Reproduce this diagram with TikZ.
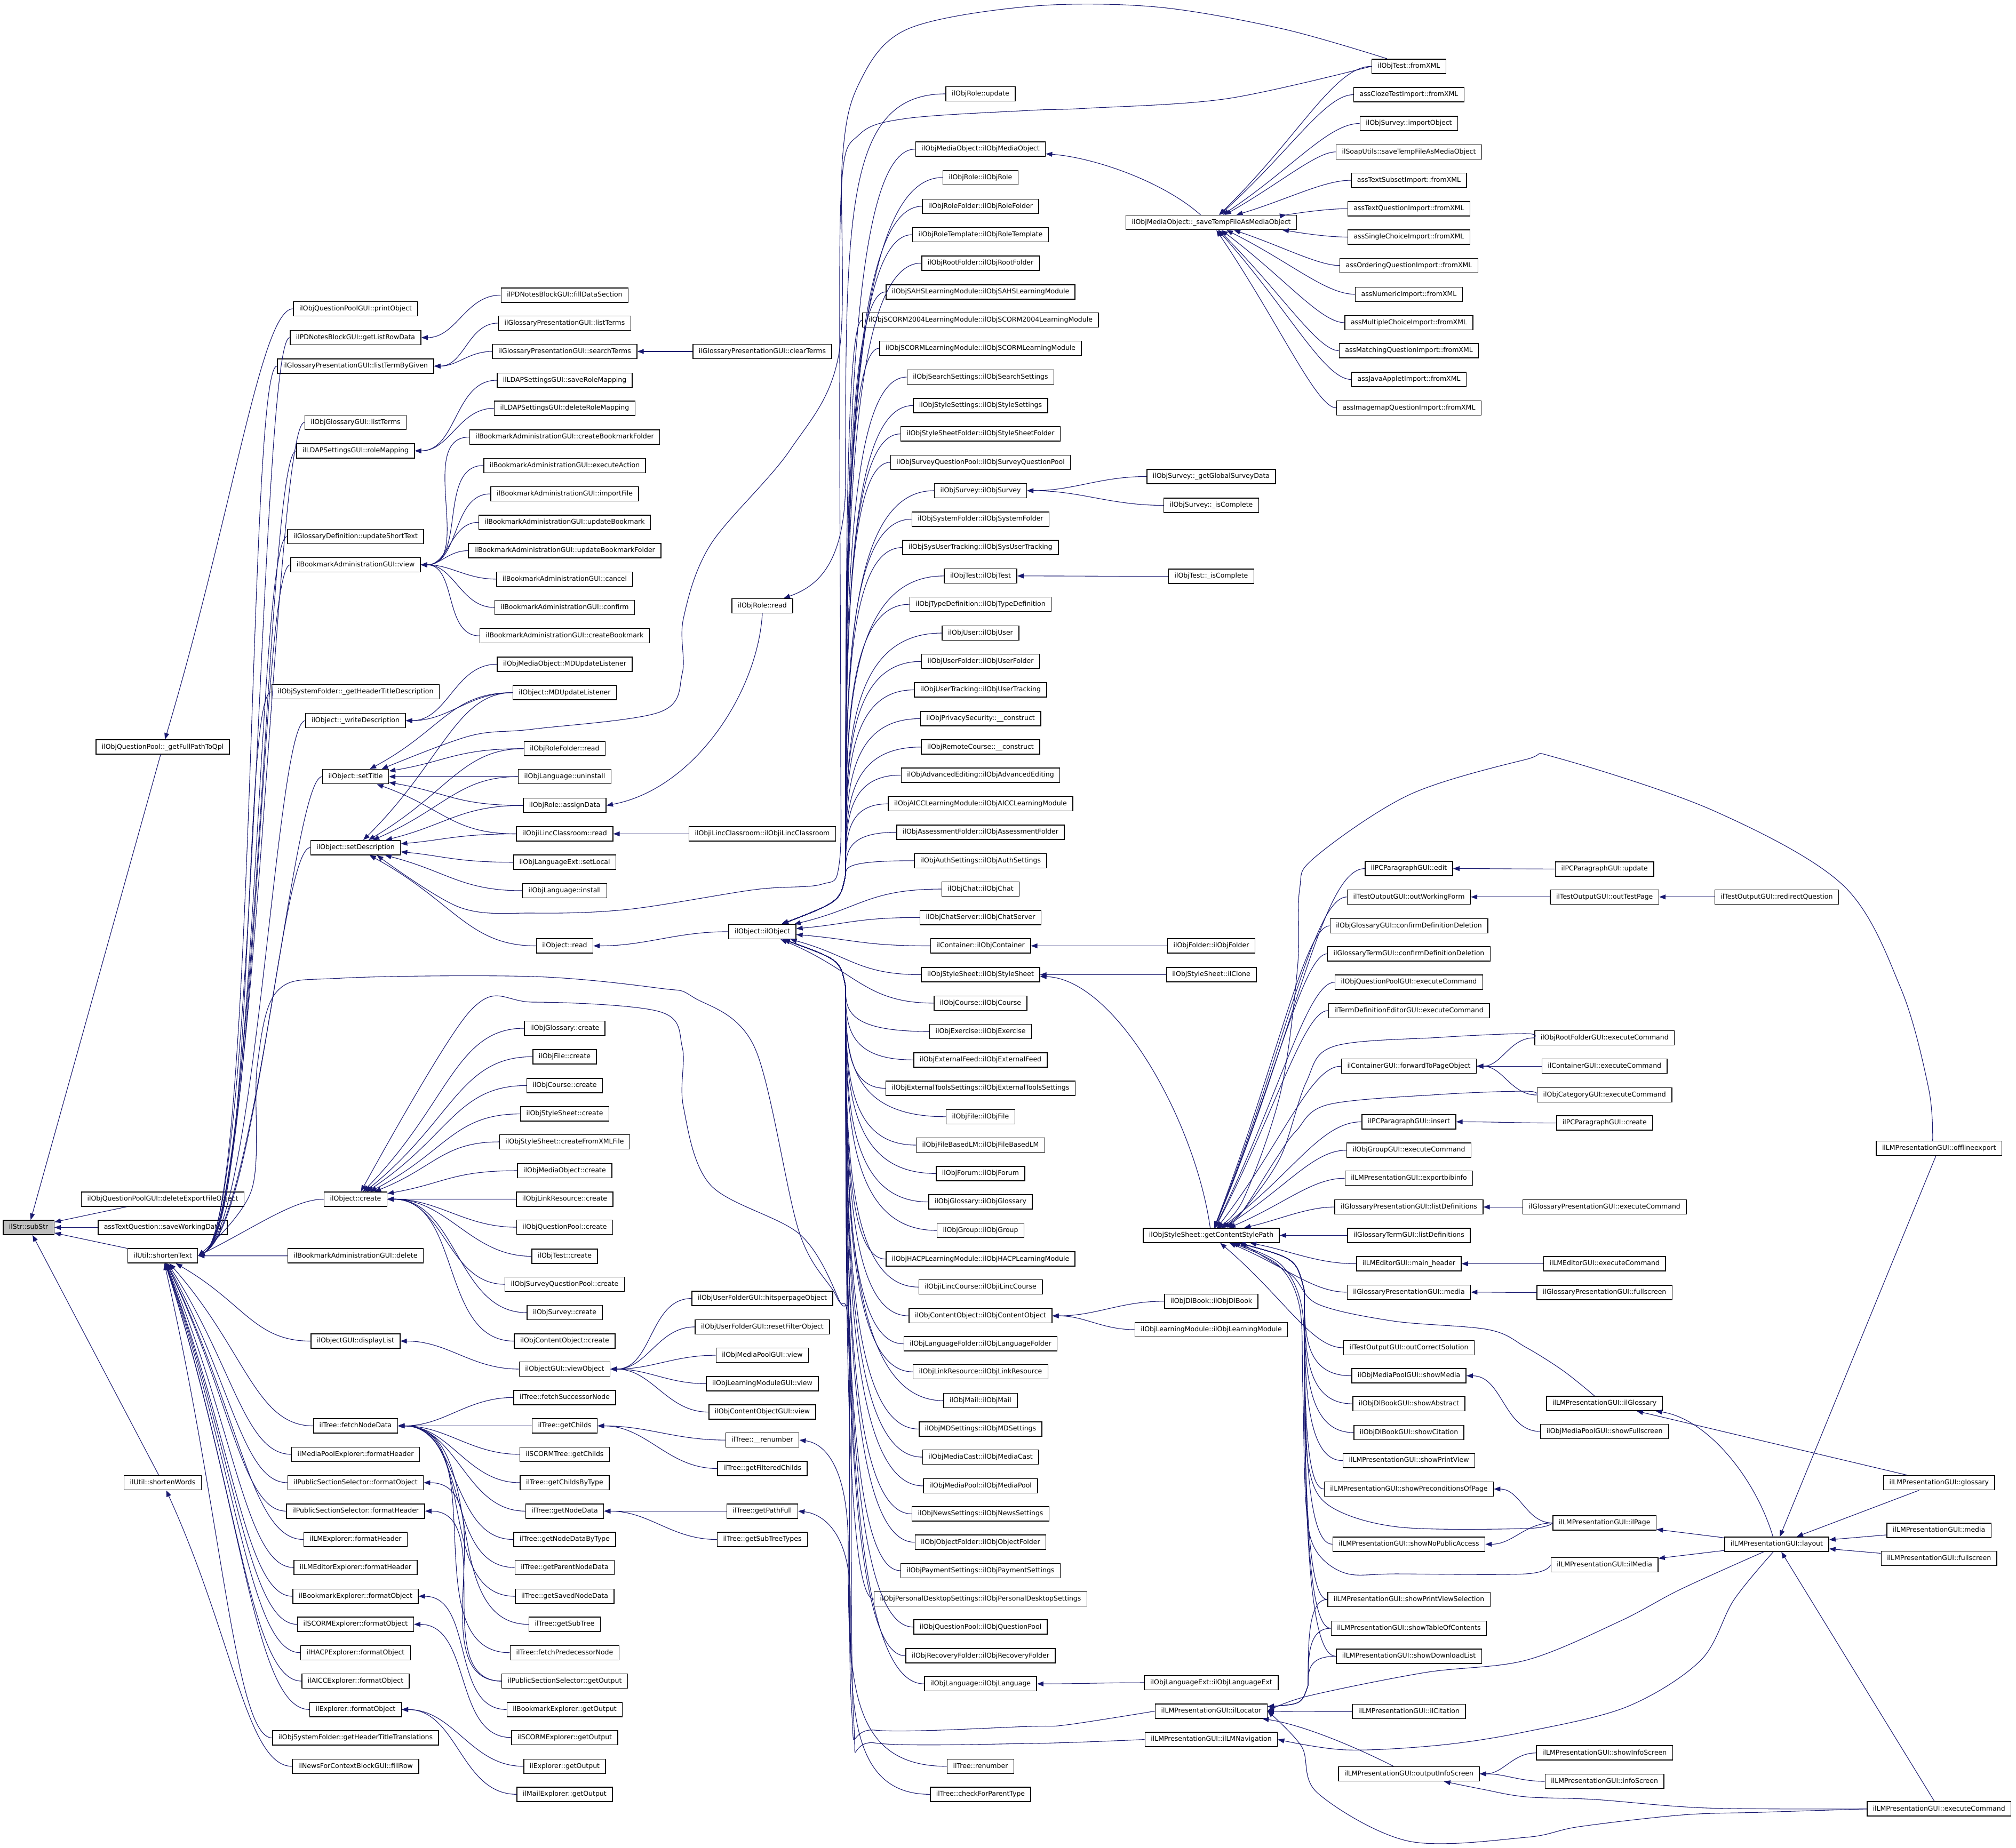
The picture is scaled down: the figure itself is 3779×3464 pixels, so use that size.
\documentclass[tikz,border=0pt]{standalone}
\usepackage{fontspec}
\newfontfamily\djv{DejaVu Sans}
\usetikzlibrary{arrows.meta,calc}
\definecolor{edgec}{RGB}{25,25,112}
\definecolor{subfill}{RGB}{191,191,191}
\tikzset{
  fn/.style={draw=black, line width=1.5pt, font=\djv\fontsize{12.5pt}{15pt}\selectfont, inner xsep=11pt, inner ysep=0pt, minimum height=27pt, text height=9.5pt, text depth=2.8pt},
  ed/.style={draw=edgec, line width=1.1pt, -{Triangle[length=12pt,width=9pt]}},
}
\newcommand\edg[2]{\draw[ed] (#1.west) .. controls ($(#1.west)!0.5!(#2.east |- #1.west)$) and ($(#2.center)!0.55!(#1.west)$) .. (#2);}
\newcommand\edgH[2]{\draw[ed] (#1.west) to[out=180,in=0] (#2.east);}
\newcommand\edgA[1]{\draw[ed] (#1.west) .. controls ($(#1.west)+(-55,0)$) and (480,2300) .. (st.east);}
\newcommand\edgOu[1]{\draw[ed] (#1.west) .. controls (#1.west -| vx) and ($(#1.west -| vx)!0.5!(1585,1640)$) .. (1585,1640) .. controls (1575,1690) .. (octor);}
\newcommand\edgOd[1]{\draw[ed] (#1.west) .. controls (#1.west -| vx) and ($(#1.west -| vx)!0.5!(1585,1850)$) .. (1585,1850) .. controls (1575,1800) .. (octor);}
\newcommand\edgGd[1]{\draw[ed] (#1.west) .. controls (#1.west -| gx) and ($(#1.west -| gx)!0.5!(2445,2420)$) .. (2445,2420) .. controls (2430,2360) .. (gcsp);}
\newcommand\edgLu[1]{\draw[ed] (#1.west) .. controls (#1.west -| lx) and ($(#1.west -| lx)!0.5!(2452,3160)$) .. (2452,3160) .. controls (2440,3195) .. (loc);}
\begin{document}
\begin{tikzpicture}[x=1pt,y=-1pt]
\useasboundingbox (0,0) rectangle (3779,3464);
\coordinate (vx) at (1585,0);
\coordinate (gx) at (2445,0);
\coordinate (lx) at (2452,0);
% rank 0
\node[fn,fill=subfill] (sub) at (53.6,2301.5) {ilStr::subStr};
% rank 1
\node[fn] (fpq) at (305,1400.7) {ilObjQuestionPool::\_getFullPathToQpl};
\node[fn] (defo) at (305,2248.4) {ilObjQuestionPoolGUI::deleteExportFileObject};
\node[fn] (swd) at (305,2301.5) {assTextQuestion::saveWorkingData};
\node[fn] (st) at (305,2354.7) {ilUtil::shortenText};
\node[fn] (sw) at (305,2780) {ilUtil::shortenWords};
% rank 2
\node[fn] (po) at (666.5,579) {ilObjQuestionPoolGUI::printObject};
\node[fn] (glrd) at (666.5,633) {ilPDNotesBlockGUI::getListRowData};
\node[fn] (ltbg) at (666.5,686.4) {ilGlossaryPresentationGUI::listTermByGiven};
\node[fn] (oglt) at (666.5,792) {ilObjGlossaryGUI::listTerms};
\node[fn] (rm) at (666.5,845.4) {ilLDAPSettingsGUI::roleMapping};
\node[fn] (ust) at (666.5,1006) {ilGlossaryDefinition::updateShortText};
\node[fn] (bview) at (666.5,1059) {ilBookmarkAdministrationGUI::view};
\node[fn] (ghtd) at (666.5,1297.2) {ilObjSystemFolder::\_getHeaderTitleDescription};
\node[fn] (wd) at (666.5,1351.2) {ilObject::\_writeDescription};
\node[fn] (sett) at (666.5,1456.2) {ilObject::setTitle};
\node[fn] (setd) at (666.5,1589.3) {ilObject::setDescription};
\node[fn] (ocr) at (666.5,2248.4) {ilObject::create};
\node[fn] (bdel) at (666.5,2354.7) {ilBookmarkAdministrationGUI::delete};
\node[fn] (dl) at (666.5,2514.5) {ilObjectGUI::displayList};
\node[fn] (fnd) at (666.5,2673.5) {ilTree::fetchNodeData};
\node[fn] (mpfh) at (666.5,2726.8) {ilMediaPoolExplorer::formatHeader};
\node[fn] (pssfo) at (666.5,2780) {ilPublicSectionSelector::formatObject};
\node[fn] (pssfh) at (666.5,2833.3) {ilPublicSectionSelector::formatHeader};
\node[fn] (lmfh) at (666.5,2886.5) {ilLMExplorer::formatHeader};
\node[fn] (lmefh) at (666.5,2939) {ilLMEditorExplorer::formatHeader};
\node[fn] (bfo) at (666.5,2993) {ilBookmarkExplorer::formatObject};
\node[fn] (scfo) at (666.5,3045.6) {ilSCORMExplorer::formatObject};
\node[fn] (hfo) at (666.5,3098.8) {ilHACPExplorer::formatObject};
\node[fn] (afo) at (666.5,3152) {ilAICCExplorer::formatObject};
\node[fn] (efo) at (666.5,3205.3) {ilExplorer::formatObject};
\node[fn] (ghtt) at (666.5,3258.6) {ilObjSystemFolder::getHeaderTitleTranslations};
\node[fn] (frow) at (666.5,3311.8) {ilNewsForContextBlockGUI::fillRow};
% rank 3
\node[fn] (fds) at (1058.5,553.3) {ilPDNotesBlockGUI::fillDataSection};
\node[fn] (gplt) at (1058.5,605.8) {ilGlossaryPresentationGUI::listTerms};
\node[fn] (gpst) at (1058.5,659) {ilGlossaryPresentationGUI::searchTerms};
\node[fn] (srm) at (1058.5,713) {ilLDAPSettingsGUI::saveRoleMapping};
\node[fn] (drm) at (1058.5,765.5) {ilLDAPSettingsGUI::deleteRoleMapping};
\node[fn] (cbf) at (1058.5,819.5) {ilBookmarkAdministrationGUI::createBookmarkFolder};
\node[fn] (exa) at (1058.5,872.8) {ilBookmarkAdministrationGUI::executeAction};
\node[fn] (imf) at (1058.5,926) {ilBookmarkAdministrationGUI::importFile};
\node[fn] (ubm) at (1058.5,979.3) {ilBookmarkAdministrationGUI::updateBookmark};
\node[fn] (ubf) at (1058.5,1032.5) {ilBookmarkAdministrationGUI::updateBookmarkFolder};
\node[fn] (bcan) at (1058.5,1085.8) {ilBookmarkAdministrationGUI::cancel};
\node[fn] (bconf) at (1058.5,1139) {ilBookmarkAdministrationGUI::confirm};
\node[fn] (cbm) at (1058.5,1192.2) {ilBookmarkAdministrationGUI::createBookmark};
\node[fn] (momd) at (1058.5,1245.4) {ilObjMediaObject::MDUpdateListener};
\node[fn] (omd) at (1058.5,1298.7) {ilObject::MDUpdateListener};
\node[fn] (rfr) at (1058.5,1403.7) {ilObjRoleFolder::read};
\node[fn] (lun) at (1058.5,1456.2) {ilObjLanguage::uninstall};
\node[fn] (rad) at (1058.5,1510.2) {ilObjRole::assignData};
\node[fn] (ilr) at (1058.5,1563.5) {ilObjiLincClassroom::read};
\node[fn] (sloc) at (1058.5,1616.7) {ilObjLanguageExt::setLocal};
\node[fn] (linst) at (1058.5,1670) {ilObjLanguage::install};
\node[fn] (ord) at (1058.5,1773.5) {ilObject::read};
\node[fn] (gcr) at (1058.5,1928) {ilObjGlossary::create};
\node[fn] (fcr) at (1058.5,1981.3) {ilObjFile::create};
\node[fn] (ccr) at (1058.5,2035.4) {ilObjCourse::create};
\node[fn] (sscr) at (1058.5,2088.6) {ilObjStyleSheet::create};
\node[fn] (ssxml) at (1058.5,2141) {ilObjStyleSheet::createFromXMLFile};
\node[fn] (mocr) at (1058.5,2195) {ilObjMediaObject::create};
\node[fn] (lrcr) at (1058.5,2248.4) {ilObjLinkResource::create};
\node[fn] (qpcr) at (1058.5,2301) {ilObjQuestionPool::create};
\node[fn] (tcr) at (1058.5,2355.5) {ilObjTest::create};
\node[fn] (sqpcr) at (1058.5,2408) {ilObjSurveyQuestionPool::create};
\node[fn] (svcr) at (1058.5,2461.2) {ilObjSurvey::create};
\node[fn] (cocr) at (1058.5,2514.5) {ilObjContentObject::create};
\node[fn] (vo) at (1058.5,2567) {ilObjectGUI::viewObject};
\node[fn] (fsn) at (1058.5,2620.3) {ilTree::fetchSuccessorNode};
\node[fn] (gch) at (1058.5,2673.5) {ilTree::getChilds};
\node[fn] (scgch) at (1058.5,2726.8) {ilSCORMTree::getChilds};
\node[fn] (gcbt) at (1058.5,2780) {ilTree::getChildsByType};
\node[fn] (gnd) at (1058.5,2833.3) {ilTree::getNodeData};
\node[fn] (gndbt) at (1058.5,2886.5) {ilTree::getNodeDataByType};
\node[fn] (gpnd) at (1058.5,2939) {ilTree::getParentNodeData};
\node[fn] (gsnd) at (1058.5,2993) {ilTree::getSavedNodeData};
\node[fn] (gst) at (1058.5,3045.6) {ilTree::getSubTree};
\node[fn] (fpn) at (1058.5,3098.8) {ilTree::fetchPredecessorNode};
\node[fn] (pssgo) at (1058.5,3152) {ilPublicSectionSelector::getOutput};
\node[fn] (bgo) at (1058.5,3205.3) {ilBookmarkExplorer::getOutput};
\node[fn] (scgo) at (1058.5,3257.8) {ilSCORMExplorer::getOutput};
\node[fn] (ego) at (1058.5,3311.8) {ilExplorer::getOutput};
\node[fn] (mgo) at (1058.5,3364.3) {ilMailExplorer::getOutput};
% rank 4
\node[fn] (clr) at (1429,659) {ilGlossaryPresentationGUI::clearTerms};
\node[fn] (rread) at (1429,1136) {ilObjRole::read};
\node[fn] (ilc) at (1429,1563.5) {ilObjiLincClassroom::ilObjiLincClassroom};
\node[fn] (octor) at (1429,1746.9) {ilObject::ilObject};
\node[fn] (hpp) at (1429,2434.6) {ilObjUserFolderGUI::hitsperpageObject};
\node[fn] (rfo) at (1429,2487.9) {ilObjUserFolderGUI::resetFilterObject};
\node[fn] (mpv) at (1429,2541.1) {ilObjMediaPoolGUI::view};
\node[fn] (lmv) at (1429,2594.4) {ilObjLearningModuleGUI::view};
\node[fn] (cov) at (1429,2647.6) {ilObjContentObjectGUI::view};
\node[fn] (ren) at (1429,2700.1) {ilTree::\_\_renumber};
\node[fn] (gfc) at (1429,2753.4) {ilTree::getFilteredChilds};
\node[fn] (gpf) at (1429,2833.3) {ilTree::getPathFull};
\node[fn] (gstt) at (1429,2886.5) {ilTree::getSubTreeTypes};
% rank 5
\node[fn] (rupd) at (1838,176) {ilObjRole::update};
\node[fn] (c2) at (1838,279.6) {ilObjMediaObject::ilObjMediaObject};
\node[fn] (c3) at (1838,332.8) {ilObjRole::ilObjRole};
\node[fn] (c4) at (1838,386.8) {ilObjRoleFolder::ilObjRoleFolder};
\node[fn] (c5) at (1838,440) {ilObjRoleTemplate::ilObjRoleTemplate};
\node[fn] (c6) at (1838,493.3) {ilObjRootFolder::ilObjRootFolder};
\node[fn] (c7) at (1838,547.3) {ilObjSAHSLearningModule::ilObjSAHSLearningModule};
\node[fn] (c8) at (1838,599.8) {ilObjSCORM2004LearningModule::ilObjSCORM2004LearningModule};
\node[fn] (c9) at (1838,653) {ilObjSCORMLearningModule::ilObjSCORMLearningModule};
\node[fn] (c10) at (1838,707) {ilObjSearchSettings::ilObjSearchSettings};
\node[fn] (c11) at (1838,760.4) {ilObjStyleSettings::ilObjStyleSettings};
\node[fn] (c12) at (1838,813.6) {ilObjStyleSheetFolder::ilObjStyleSheetFolder};
\node[fn] (c13) at (1838,866.9) {ilObjSurveyQuestionPool::ilObjSurveyQuestionPool};
\node[fn] (c14) at (1838,920) {ilObjSurvey::ilObjSurvey};
\node[fn] (c15) at (1838,973.4) {ilObjSystemFolder::ilObjSystemFolder};
\node[fn] (c16) at (1838,1026.6) {ilObjSysUserTracking::ilObjSysUserTracking};
\node[fn] (c17) at (1838,1079.9) {ilObjTest::ilObjTest};
\node[fn] (c18) at (1838,1133.1) {ilObjTypeDefinition::ilObjTypeDefinition};
\node[fn] (c19) at (1838,1187) {ilObjUser::ilObjUser};
\node[fn] (c20) at (1838,1240.2) {ilObjUserFolder::ilObjUserFolder};
\node[fn] (c21) at (1838,1293.5) {ilObjUserTracking::ilObjUserTracking};
\node[fn] (c22) at (1838,1347.5) {ilObjPrivacySecurity::\_\_construct};
\node[fn] (c23) at (1838,1400.7) {ilObjRemoteCourse::\_\_construct};
\node[fn] (c24) at (1838,1453.3) {ilObjAdvancedEditing::ilObjAdvancedEditing};
\node[fn] (c25) at (1838,1507.2) {ilObjAICCLearningModule::ilObjAICCLearningModule};
\node[fn] (c26) at (1838,1560.5) {ilObjAssessmentFolder::ilObjAssessmentFolder};
\node[fn] (c27) at (1838,1613.8) {ilObjAuthSettings::ilObjAuthSettings};
\node[fn] (c28) at (1838,1667) {ilObjChat::ilObjChat};
\node[fn] (c29) at (1838,1720.3) {ilObjChatServer::ilObjChatServer};
\node[fn] (c30) at (1838,1773.5) {ilContainer::ilObjContainer};
\node[fn] (c31) at (1838,1827.5) {ilObjStyleSheet::ilObjStyleSheet};
\node[fn] (c32) at (1838,1880.8) {ilObjCourse::ilObjCourse};
\node[fn] (c33) at (1838,1934) {ilObjExercise::ilObjExercise};
\node[fn] (c34) at (1838,1987.3) {ilObjExternalFeed::ilObjExternalFeed};
\node[fn] (c35) at (1838,2040.5) {ilObjExternalToolsSettings::ilObjExternalToolsSettings};
\node[fn] (c36) at (1838,2093.8) {ilObjFile::ilObjFile};
\node[fn] (c37) at (1838,2147) {ilObjFileBasedLM::ilObjFileBasedLM};
\node[fn] (c38) at (1838,2200.3) {ilObjForum::ilObjForum};
\node[fn] (c39) at (1838,2253.6) {ilObjGlossary::ilObjGlossary};
\node[fn] (c40) at (1838,2307) {ilObjGroup::ilObjGroup};
\node[fn] (c41) at (1838,2360.7) {ilObjHACPLearningModule::ilObjHACPLearningModule};
\node[fn] (c42) at (1838,2413.2) {ilObjiLincCourse::ilObjiLincCourse};
\node[fn] (c43) at (1838,2467.2) {ilObjContentObject::ilObjContentObject};
\node[fn] (c44) at (1838,2519.7) {ilObjLanguageFolder::ilObjLanguageFolder};
\node[fn] (c45) at (1838,2572.2) {ilObjLinkResource::ilObjLinkResource};
\node[fn] (c46) at (1838,2626.2) {ilObjMail::ilObjMail};
\node[fn] (c47) at (1838,2679.4) {ilObjMDSettings::ilObjMDSettings};
\node[fn] (c48) at (1838,2732) {ilObjMediaCast::ilObjMediaCast};
\node[fn] (c49) at (1838,2786) {ilObjMediaPool::ilObjMediaPool};
\node[fn] (c50) at (1838,2838.5) {ilObjNewsSettings::ilObjNewsSettings};
\node[fn] (c51) at (1838,2891.7) {ilObjObjectFolder::ilObjObjectFolder};
\node[fn] (c52) at (1838,2945) {ilObjPaymentSettings::ilObjPaymentSettings};
\node[fn] (c53) at (1838,2998.2) {ilObjPersonalDesktopSettings::ilObjPersonalDesktopSettings};
\node[fn] (c54) at (1838,3050.7) {ilObjQuestionPool::ilObjQuestionPool};
\node[fn] (c55) at (1838,3104.7) {ilObjRecoveryFolder::ilObjRecoveryFolder};
\node[fn] (c56) at (1838,3157.2) {ilObjLanguage::ilObjLanguage};
\node[fn] (tren) at (1838,3311.8) {ilTree::renumber};
\node[fn] (cfpt) at (1838,3364.3) {ilTree::checkForParentType};
% rank 6
\node[fn] (stf) at (2270.5,417.2) {ilObjMediaObject::\_saveTempFileAsMediaObject};
\node[fn] (gsd) at (2270.5,893.5) {ilObjSurvey::\_getGlobalSurveyData};
\node[fn] (sic) at (2270.5,947.5) {ilObjSurvey::\_isComplete};
\node[fn] (tic) at (2270.5,1080.6) {ilObjTest::\_isComplete};
\node[fn] (fold) at (2270.5,1773.5) {ilObjFolder::ilObjFolder};
\node[fn] (clone) at (2270.5,1827.5) {ilObjStyleSheet::ilClone};
\node[fn] (gcsp) at (2270.5,2316.3) {ilObjStyleSheet::getContentStylePath};
\node[fn] (dlb) at (2270.5,2439.8) {ilObjDlBook::ilObjDlBook};
\node[fn] (lmod) at (2270.5,2493) {ilObjLearningModule::ilObjLearningModule};
\node[fn] (lext) at (2270.5,3155) {ilObjLanguageExt::ilObjLanguageExt};
\node[fn] (loc) at (2270.5,3208.3) {ilLMPresentationGUI::ilLocator};
\node[fn] (lmnav) at (2270.5,3261.5) {ilLMPresentationGUI::ilLMNavigation};
% rank 7
\node[fn] (xml) at (2641,124.3) {ilObjTest::fromXML};
\node[fn] (cloze) at (2641,177.5) {assClozeTestImport::fromXML};
\node[fn] (svimp) at (2641,231.5) {ilObjSurvey::importObject};
\node[fn] (soap) at (2641,284.8) {ilSoapUtils::saveTempFileAsMediaObject};
\node[fn] (tsub) at (2641,338) {assTextSubsetImport::fromXML};
\node[fn] (tq) at (2641,391.3) {assTextQuestionImport::fromXML};
\node[fn] (sch) at (2641,444.5) {assSingleChoiceImport::fromXML};
\node[fn] (ordq) at (2641,497.8) {assOrderingQuestionImport::fromXML};
\node[fn] (num) at (2641,551.8) {assNumericImport::fromXML};
\node[fn] (mch) at (2641,605) {assMultipleChoiceImport::fromXML};
\node[fn] (match) at (2641,657.5) {assMatchingQuestionImport::fromXML};
\node[fn] (java) at (2641,711.5) {assJavaAppletImport::fromXML};
\node[fn] (imgmap) at (2641,764.8) {assImagemapQuestionImport::fromXML};
\node[fn] (pced) at (2641,1628.6) {ilPCParagraphGUI::edit};
\node[fn] (owf) at (2641,1681.8) {ilTestOutputGUI::outWorkingForm};
\node[fn] (ogcdd) at (2641,1735.8) {ilObjGlossaryGUI::confirmDefinitionDeletion};
\node[fn] (gtcdd) at (2641,1788.3) {ilGlossaryTermGUI::confirmDefinitionDeletion};
\node[fn] (qpec) at (2641,1841.6) {ilObjQuestionPoolGUI::executeCommand};
\node[fn] (tdec) at (2641,1894.8) {ilTermDefinitionEditorGUI::executeCommand};
\node[fn] (ftpo) at (2641,1999.1) {ilContainerGUI::forwardToPageObject};
\node[fn] (pcins) at (2641,2103.4) {ilPCParagraphGUI::insert};
\node[fn] (grec) at (2641,2156.6) {ilObjGroupGUI::executeCommand};
\node[fn] (expb) at (2641,2209.2) {ilLMPresentationGUI::exportbibinfo};
\node[fn] (gpld) at (2641,2263.1) {ilGlossaryPresentationGUI::listDefinitions};
\node[fn] (gtld) at (2641,2316.3) {ilGlossaryTermGUI::listDefinitions};
\node[fn] (mh) at (2641,2369.5) {ilLMEditorGUI::main\_header};
\node[fn] (gpmed) at (2641,2422.8) {ilGlossaryPresentationGUI::media};
\node[fn] (ocs) at (2641,2527) {ilTestOutputGUI::outCorrectSolution};
\node[fn] (smed) at (2641,2579.6) {ilObjMediaPoolGUI::showMedia};
\node[fn] (sabs) at (2641,2632.1) {ilObjDlBookGUI::showAbstract};
\node[fn] (scit) at (2641,2686) {ilObjDlBookGUI::showCitation};
\node[fn] (spv) at (2641,2738.6) {ilLMPresentationGUI::showPrintView};
\node[fn] (spre) at (2641,2791.9) {ilLMPresentationGUI::showPreconditionsOfPage};
\node[fn] (snpa) at (2641,2895.4) {ilLMPresentationGUI::showNoPublicAccess};
\node[fn] (spvs) at (2641,2999) {ilLMPresentationGUI::showPrintViewSelection};
\node[fn] (stoc) at (2641,3053) {ilLMPresentationGUI::showTableOfContents};
\node[fn] (sdl) at (2641,3105.5) {ilLMPresentationGUI::showDownloadList};
\node[fn] (cit) at (2641,3209) {ilLMPresentationGUI::ilCitation};
\node[fn] (ois) at (2641,3325.9) {ilLMPresentationGUI::outputInfoScreen};
% rank 8
\node[fn] (pcupd) at (3007.7,1629.3) {ilPCParagraphGUI::update};
\node[fn] (otp) at (3007.7,1681.8) {ilTestOutputGUI::outTestPage};
\node[fn] (rfec) at (3007.7,1945.9) {ilObjRootFolderGUI::executeCommand};
\node[fn] (cec) at (3007.7,1999.1) {ilContainerGUI::executeCommand};
\node[fn] (catec) at (3007.7,2053.1) {ilObjCategoryGUI::executeCommand};
\node[fn] (pccr) at (3007.7,2105.6) {ilPCParagraphGUI::create};
\node[fn] (gpec) at (3007.7,2263.1) {ilGlossaryPresentationGUI::executeCommand};
\node[fn] (lmeec) at (3007.7,2369.5) {ilLMEditorGUI::executeCommand};
\node[fn] (gpfs) at (3007.7,2423.5) {ilGlossaryPresentationGUI::fullscreen};
\node[fn] (ilg) at (3007.7,2631.4) {ilLMPresentationGUI::ilGlossary};
\node[fn] (smfs) at (3007.7,2683.9) {ilObjMediaPoolGUI::showFullscreen};
\node[fn] (ilpage) at (3007.7,2855.5) {ilLMPresentationGUI::ilPage};
\node[fn] (ilmedia) at (3007.7,2933.9) {ilLMPresentationGUI::ilMedia};
\node[fn] (sis) at (3007.7,3286.7) {ilLMPresentationGUI::showInfoScreen};
\node[fn] (iscr) at (3007.7,3340) {ilLMPresentationGUI::infoScreen};
% rank 9
\node[fn] (rq) at (3330.4,1681.8) {ilTestOutputGUI::redirectQuestion};
\node[fn] (layout) at (3330.4,2895.4) {ilLMPresentationGUI::layout};
% rank 10
\node[fn] (offl) at (3634.7,2153) {ilLMPresentationGUI::offlineexport};
\node[fn] (lglos) at (3634.7,2780) {ilLMPresentationGUI::glossary};
\node[fn] (lmed) at (3634.7,2869.5) {ilLMPresentationGUI::media};
\node[fn] (lfs) at (3634.7,2922) {ilLMPresentationGUI::fullscreen};
\node[fn] (lmec) at (3634.7,3391.7) {ilLMPresentationGUI::executeCommand};

% ---------- edges ----------
% into subStr
\foreach \n in {fpq,defo,swd,st,sw} {\draw[ed] (\n) -- (sub);}
\edg{po}{fpq}
\edg{frow}{sw}
% into shortenText
\foreach \n in {glrd,ltbg,oglt,rm,ust,bview,ghtd,wd,sett,setd,ocr} {\edgA{\n}}
\foreach \n in {bdel,dl,fnd,mpfh,pssfo,pssfh,lmfh,lmefh,bfo,scfo,hfo,afo,efo,ghtt} {\edg{\n}{st}}
% rank 3 -> rank 2
\edgH{fds}{glrd}
\edgH{gplt}{ltbg}
\edgH{gpst}{ltbg}
\edgH{srm}{rm}
\edgH{drm}{rm}
\foreach \n in {cbf,exa,imf,ubm,ubf,bcan,bconf,cbm} {\edgH{\n}{bview}}
\edgH{momd}{wd}
\edgH{omd}{wd}
\foreach \n in {omd,rfr,lun,rad,ilr} {\edg{\n}{sett}}
\foreach \n in {omd,rfr,lun,rad,ilr,sloc,linst,ord} {\edg{\n}{setd}}
\foreach \n in {gcr,fcr,ccr,sscr,ssxml,mocr,lrcr} {\edg{\n}{ocr}}
\foreach \n in {qpcr,tcr,sqpcr,svcr,cocr} {\edgH{\n}{ocr}}
\edgH{vo}{dl}
\foreach \n in {fsn,gch,scgch,gcbt,gnd,gndbt,gpnd,gsnd,gst,fpn} {\edgH{\n}{fnd}}
\edgH{pssgo}{pssfo}
\edgH{pssgo}{pssfh}
\edgH{bgo}{bfo}
\edgH{scgo}{scfo}
\edgH{ego}{efo}
\edgH{mgo}{efo}
% rank 4 -> rank 3
\edgH{clr}{gpst}
\edgH{ilc}{ilr}
\edgH{octor}{ord}
\draw[ed] (rread.south) .. controls (1420,1300) and (1300,1480) .. (rad.east);
\foreach \n in {hpp,rfo,mpv,lmv,cov} {\edgH{\n}{vo}}
\edgH{ren}{gch}
\edgH{gfc}{gch}
\edgH{gpf}{gnd}
\edgH{gstt}{gnd}
% rank 5 -> rank 4
\foreach \i in {2,...,27} {\edgOu{c\i}}
\foreach \i in {28,...,32} {\edg{c\i}{octor}}
\foreach \i in {33,...,56} {\edgOd{c\i}}
\draw[ed] (rupd.west) .. controls (1585,176) and (1585,400) .. (1585,900) .. controls (1585,1060) and (1530,1100) .. (rread);
\draw[ed] (tren.west) .. controls (1590,3311.8) and (1590,3150) .. (1590,2900) .. controls (1590,2740) and (1540,2705) .. (ren.east);
\draw[ed] (cfpt.west) .. controls (1594,3364.3) and (1594,3200) .. (1594,3000) .. controls (1594,2870) and (1540,2838) .. (gpf.east);
% rank 6 -> rank 5
\draw[ed] ([xshift=-20pt]stf.north) .. controls (2180,340) and (2050,295) .. (c2);
\edgH{gsd}{c14}
\edgH{sic}{c14}
\edgH{tic}{c17}
\edgH{fold}{c30}
\edgH{clone}{c31}
\draw[ed] ([xshift=-2pt]gcsp.north) .. controls (2240,2100) and (2090,1835) .. (c31);
\edgH{dlb}{c43}
\edgH{lmod}{c43}
\edgH{lext}{c56}
% rank 7 -> rank 6
\foreach \n in {xml,cloze,svimp,soap,tsub,tq,sch,ordq,num,mch,match,java,imgmap} {\edg{\n}{stf}}
\foreach \n in {pced,owf,ogcdd,gtcdd,qpec,tdec,ftpo,pcins,grec,expb,gpld,gtld,mh,gpmed,ocs} {\edg{\n}{gcsp}}
\foreach \n in {smed,sabs,scit,spv,spre,snpa,spvs,stoc,sdl} {\edgGd{\n}}
\foreach \n in {spvs,stoc,sdl} {\edgLu{\n}}
\edg{cit}{loc}
\draw[ed] ([xshift=-29pt]ois.north) .. controls (2560,3285) and (2450,3235) .. (loc);
% rank 8 -> rank 7
\edgH{pcupd}{pced}
\edgH{otp}{owf}
\edgH{rfec}{ftpo}
\edgH{cec}{ftpo}
\edgH{catec}{ftpo}
\edgH{pccr}{pcins}
\edgH{gpec}{gpld}
\edgH{lmeec}{mh}
\edgH{gpfs}{gpmed}
\edgH{smfs}{smed}
\edgH{ilpage}{spre}
\edgH{ilpage}{snpa}
\edgH{sis}{ois}
\edgH{iscr}{ois}
\edgH{rq}{otp}
% layout cluster
\draw[ed] (offl) -- (layout);
\draw[ed] (lglos) -- (layout);
\draw[ed] (lmed) -- (layout);
\draw[ed] (lfs) -- (layout);
\draw[ed] (lmec) -- (layout);
\draw[ed] (layout) -- (ilpage);
\draw[ed] (layout) -- (ilmedia);
\draw[ed] (lglos) -- (ilg);
\draw[ed] ([xshift=-7pt]layout.north) .. controls (3290,2770) and (3200,2660) .. (ilg);
% long routed edges
\draw[ed] plot[smooth,tension=0.55] coordinates {([xshift=29pt]xml.north west) (2404,54) (2167,13) (1930,12) (1700,55) (1611,155) (1579,300) (1572,666) (1480,845) (1332,1021) (1281,1160) (1279,1262) (1237,1335) (1000,1367) (880,1380) ([xshift=-14pt]sett.north east)};
\draw[ed] plot[smooth,tension=0.55] coordinates {(xml.west) (2300,185) (2037,203) (1930,207) (1700,222) (1611,252) (1578,340) (1574,740) (1576,1400) (1573,1620) (1540,1658) (1415,1668) (1178,1705) (1000,1712) (861,1701) ([xshift=40pt]setd.south)};
\draw[ed] plot[smooth,tension=0.55] coordinates {(loc.west) (2000,3234) (1930,3237) (1640,3244) (1596,3200) (1591,2520) (1569,2433) (1498,2310) (1415,1965) (1300,1870) (1237,1853) (1000,1831) (640,1834) (520,1858) (482,2000) (472,2230) (st.east)};
\draw[ed] plot[smooth,tension=0.55] coordinates {(lmnav.west) (1930,3269) (1640,3268) (1600,3222) (1594,2520) (1574,2440) (1500,2315) (1332,2222) (1281,2075) (1279,1964) (1237,1897) (1000,1879) (880,1897) ([xshift=10pt]ocr.north)};
\draw[ed] plot[smooth,tension=0.55] coordinates {(rfec.west) (2860,1938) (2700,1945) (2500,1962) (2448,2030) (2400,2170) (2330,2270) ([xshift=20pt]gcsp.north)};
\draw[ed] plot[smooth,tension=0.55] coordinates {(catec.west) (2860,2046) (2700,2052) (2490,2071) (2430,2120) (2393,2171) (2330,2270) ([xshift=30pt]gcsp.north)};
\draw[ed] plot[smooth,tension=0.55] coordinates {([xshift=-19pt]ilg.north) (2930,2570) (2860,2526) (2790,2493) (2612,2477) (2470,2445) (2420,2390) ([xshift=55pt]gcsp.south)};
\draw[ed] plot[smooth,tension=0.55] coordinates {(ilpage.west) (2860,2866) (2620,2863) (2490,2822) (2452,2745) (2446,2600) (2440,2450) (2400,2370) ([xshift=42pt]gcsp.south)};
\draw[ed] plot[smooth,tension=0.55] coordinates {(ilmedia.west) (2860,2951) (2620,2951) (2523,2950) (2466,2906) (2448,2820) (2442,2600) (2436,2450) (2396,2372) ([xshift=38pt]gcsp.south)};
\draw[ed] plot[smooth,tension=0.55] coordinates {([xshift=-12pt]offl.north) (3615,2040) (3563,1853) (3455,1660) (3212,1520) (2919,1421) (2860,1424) (2642,1490) (2464,1608) (2436,1668) (2432,1816) (2400,2050) (2330,2250) ([xshift=10pt]gcsp.north)};
\draw[ed] plot[smooth,tension=0.55] coordinates {([xshift=74pt]layout.south west) (3150,2980) (3036,3040) (2860,3113) (2671,3136) (2452,3180) (loc.east)};
\draw[ed] plot[smooth,tension=0.55] coordinates {([xshift=92pt]layout.south west) (3250,3000) (3188,3113) (3050,3200) (2860,3247) (2700,3272) (2523,3281) (lmnav.east)};
\draw[ed] plot[smooth,tension=0.55] coordinates {(lmec.west) (3300,3398) (3153,3403) (2960,3425) (2860,3445) (2640,3452) (2470,3362) (2440,3275) (loc.east)};
\draw[ed] plot[smooth,tension=0.55] coordinates {(lmec.west) (3200,3390) (2990,3374) (2860,3369) (2780,3355) ([xshift=-67pt]ois.south east)};
\end{tikzpicture}
\end{document}
